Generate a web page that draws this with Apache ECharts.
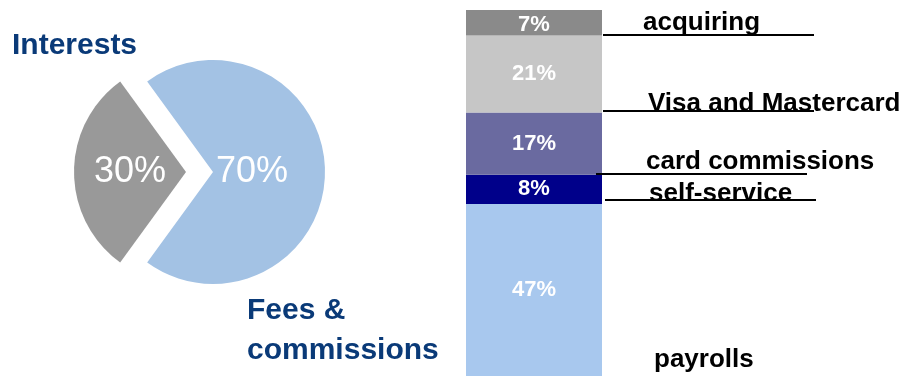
<!DOCTYPE html>
<html>
<head>
<meta charset="utf-8">
<script src="https://cdn.jsdelivr.net/npm/echarts@6/dist/echarts.min.js"></script>
<style>
  html, body { margin: 0; padding: 0; background: #fff; }
  #main { width: 908px; height: 376px; }
</style>
</head>
<body>
<div id="main"></div>
<script>
// Revenue split between fees & commissions and interest income
const splitNames = ['Fees &\ncommissions', 'Interests'];
const splitValues = [70, 30];

// Fees & commissions breakdown, listed from the bottom of the stack upwards
const feeNames = ['payrolls', 'self-service', 'card commissions', 'Visa and Mastercard', 'acquiring'];
const feeValues = [47, 8, 17, 21, 7];

const FONT = '"Liberation Sans", Arial, Helvetica, sans-serif';
const NAVY = '#0a3a78';
const pieColors = ['#a3c2e4', '#999999'];
const feeColors = ['#a8c8ee', '#00008a', '#6a6aa0', '#c6c6c6', '#8a8a8a'];

// Callout placement per fee item (same order as feeNames), relative to the
// right edge of the bar and to the lower boundary of the item's segment.
// base = text baseline offset, ly = leader line offset, line = horizontal span.
const calloutLayout = [
  { tx: 52, base: -11, line: null, ly: 0 },
  { tx: 47, base: -5, line: [3, 214], ly: -4 },
  { tx: 44, base: -8, line: [-6, 205], ly: -1 },
  { tx: 46, base: -4, line: [1, 212], ly: -1 },
  { tx: 41, base: -8, line: [1, 212], ly: -1 }
];

// cumulative value at the bottom of each stacked segment
const segmentFloor = feeValues.map((v, i) => feeValues.slice(0, i).reduce((a, b) => a + b, 0));

const chart = echarts.init(document.getElementById('main'), null, { renderer: 'canvas' });

const barSeries = feeNames.map((name, i) => ({
  name: name,
  type: 'bar',
  stack: 'fees',
  barWidth: '100%',
  barCategoryGap: 0,
  silent: true,
  itemStyle: { color: feeColors[i] },
  label: {
    show: true,
    position: 'inside',
    formatter: '{c}%',
    color: '#ffffff',
    fontFamily: FONT,
    fontWeight: 'bold',
    fontSize: 22,
    offset: i === feeNames.length - 1 ? [0, 2] : [0, 0]
  },
  data: [feeValues[i]]
}));

chart.setOption({
  animation: false,
  backgroundColor: '#ffffff',
  grid: { left: 466, width: 136, top: 10, height: 372 },
  xAxis: { type: 'category', data: ['fees'], show: false },
  yAxis: { type: 'value', min: 0, max: 100, show: false },
  graphic: [
    {
      type: 'text', x: 12, y: 46, silent: true,
      style: {
        text: splitNames[1], fill: NAVY, fontFamily: FONT, fontWeight: 'bold', fontSize: 30,
        verticalAlign: 'middle', align: 'left'
      }
    },
    {
      type: 'text', x: 247, y: 291, silent: true,
      style: {
        text: splitNames[0], fill: NAVY, fontFamily: FONT, fontWeight: 'bold', fontSize: 30,
        lineHeight: 40, verticalAlign: 'top', align: 'left'
      }
    }
  ],
  series: [
    {
      type: 'pie',
      center: [213, 172],
      radius: [0, 112],
      startAngle: 126,
      clockwise: true,
      selectedMode: 'single',
      selectedOffset: 27,
      silent: true,
      emphasis: { disabled: true },
      label: {
        show: true,
        position: 'inside',
        formatter: '{d}%',
        color: '#ffffff',
        fontFamily: FONT,
        fontSize: 36
      },
      labelLine: { show: false },
      data: [
        { name: splitNames[0], value: splitValues[0], itemStyle: { color: pieColors[0] },
          label: { padding: [0, 40, 0, 0] } },
        { name: splitNames[1], value: splitValues[1], itemStyle: { color: pieColors[1] }, selected: true,
          label: { padding: [0, 0, 0, 6] } }
      ]
    }
  ].concat(barSeries).concat([
    {
      type: 'custom',
      silent: true,
      clip: false,
      z: 5,
      data: feeNames.map((n, i) => [0, segmentFloor[i]]),
      renderItem: function (params, api) {
        const i = params.dataIndex;
        const lay = calloutLayout[i];
        const pt = api.coord([0, api.value(1)]);
        const edge = pt[0] + api.size([1, 0])[0] / 2;
        const children = [];
        if (lay.line) {
          const ly = Math.round(pt[1] + lay.ly);
          children.push({
            type: 'line',
            shape: { x1: edge + lay.line[0], y1: ly, x2: edge + lay.line[1], y2: ly },
            style: { stroke: '#000000', lineWidth: 2 }
          });
        }
        children.push({
          type: 'text',
          x: edge + lay.tx,
          y: pt[1] + lay.base - 5,
          style: {
            text: feeNames[i], fill: '#000000', fontFamily: FONT, fontWeight: 'bold', fontSize: 26,
            align: 'left', verticalAlign: 'middle'
          }
        });
        return { type: 'group', children: children };
      }
    }
  ])
});
</script>
</body>
</html>
